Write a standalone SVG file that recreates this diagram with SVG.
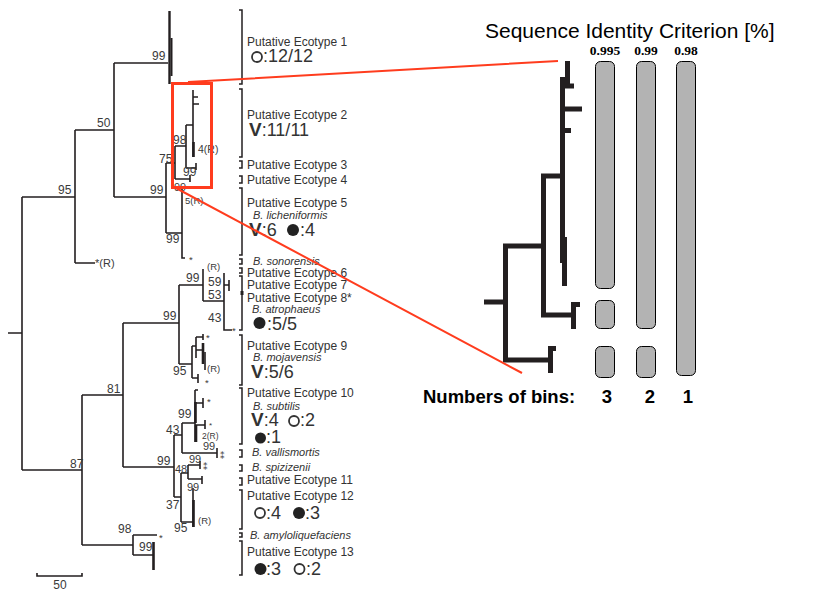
<svg xmlns="http://www.w3.org/2000/svg" width="831" height="593" viewBox="0 0 831 593">
<style>
.t{fill:none;stroke:#231f20;stroke-width:1.6}
.tk{fill:none;stroke:#231f20;stroke-width:2.6}
.br{fill:none;stroke:#231f20;stroke-width:1.5}
.n{font-family:"Liberation Sans",Arial,sans-serif;font-size:12px;fill:#3a3a3a}
.s{font-family:"Liberation Sans",Arial,sans-serif;font-size:9.5px;fill:#3a3a3a}
.dd{font-family:"DejaVu Sans",sans-serif;font-size:9px;fill:#3a3a3a}
.l{font-family:"Liberation Sans",Arial,sans-serif;font-size:12px;fill:#333}
.i{font-family:"Liberation Sans",Arial,sans-serif;font-size:11px;font-style:italic;fill:#333}
.b{font-family:"Liberation Sans",Arial,sans-serif;font-size:18px;fill:#333}
.v{font-weight:bold}
.oc{fill:none;stroke:#333;stroke-width:1.8}
.fc{fill:#222}
.rt{fill:none;stroke:#231f20;stroke-width:5}
.bar{fill:#b3b3b3;stroke:#000;stroke-width:1}
.red{fill:none;stroke:#ff3c1e;stroke-width:2}
.ser{font-family:"Liberation Serif","Times New Roman",serif;font-weight:bold;font-size:13.5px;fill:#000;text-anchor:middle}
.hb{font-family:"Liberation Sans",Arial,sans-serif;font-weight:bold;font-size:18.5px;fill:#000}
</style>

<g id="connectors">
<path class="t" d="M8,333H22M22,197V470M22,197H75M75,130V263M75,263H95M75,130H114M114,63V197M114,63H168M114,197H166M166,163V233M166,233H182M182,187V258H185M166,163H175M175,146V179M175,179H190M190,175V182M175,146H186M186,125V168M186,168H196M196,163V170M186,125H193M193,90V157M193,97H198M193,104H199"/>
<path class="t" d="M169.5,11V84" style="stroke-width:2.4"/>
<path class="t" d="M171.5,38V76" style="stroke-width:2"/>
<path class="tk" d="M193.5,142V157"/>
<path class="t" d="M22,470H82M82,395V545M82,395H123M123,323V467M123,323H179M179,285V364M179,285H203M203,269V301M203,301H224M224,273V330H232M224,285H229M229,280V291M179,364H192M192,346V378M192,346H196M196,337V358M196,337H203M203,334V340M196,350H203M205,352V370M192,378H198M198,374V383"/>
<path class="tk" d="M203,343V364"/>
<path class="t" d="M123,467H174M174,435V497M174,435H182M182,423V453M182,423H195M195,390V442M195,390H198M195,403H203M203,398V408M195,425H205M205,420V429M182,453H217M217,448V458M174,497H181M181,473V522M181,473H188M188,465V479M188,465H200M200,461V469M188,479H202M202,476V484M181,522H193M193,488V527"/>
<path class="tk" d="M195.5,402V423M196,425V442M193.5,500V527"/>
<path class="t" d="M82,545H133M133,535V555M133,535H157M133,555H153"/>
<path class="tk" d="M153.5,542V570"/>
<path class="t" d="M37,573V576H82V573"/>
<g class="br">
<path d="M239,10H242V84H239M239,89H242V157H239M239,161H242V168H239M239,176H242V183H239M239,188H242V255H239M239,259H242V264H239M239,268H242V273H239M239,276H242V330H239M239,335H242V385H239M239,388H242V444H239M239,450H242V457H239M239,465H242V471H239M239,478H242V485H239M239,490H242V529H239M239,533H242V537H239M239,541H242V575H239"/>
</g>
<rect x="240.5" y="291" width="3" height="4" fill="#231f20"/>
</g>

<g id="tree-labels">
<text class="n" x="58" y="194">95</text>
<text class="n" x="97" y="127">50</text>
<text class="n" x="152" y="60">99</text>
<text class="n" x="150" y="194">99</text>
<text class="n" x="166" y="243">99</text>
<text class="s" x="185" y="204">5(R)</text>
<text class="s" x="189" y="263">*</text>
<text class="n" x="159" y="163">75</text>
<text class="n" x="173" y="144">98</text>
<text class="n" x="183" y="176">99</text>
<text class="n" x="174" y="191" style="font-size:11px">99</text>
<text class="s" x="198" y="153" style="font-size:10.5px">4(R)</text>
<text class="s" x="95" y="267" style="font-size:11px">*(R)</text>
<text class="n" x="163" y="320">99</text>
<text class="n" x="186" y="282">99</text>
<text class="s" x="207" y="270">(R)</text>
<text class="n" x="208" y="286">59</text>
<text class="n" x="208" y="299">53</text>
<text class="n" x="208" y="322">43</text>
<text class="s" x="232" y="334">*</text>
<text class="s" x="206" y="341">*</text>
<text class="s" x="207" y="372">(R)</text>
<text class="s" x="205" y="386">*</text>
<text class="n" x="173" y="375">95</text>
<text class="n" x="107" y="393">81</text>
<text class="n" x="70" y="468">87</text>
<text class="n" x="157" y="465">99</text>
<text class="n" x="166" y="434">43</text>
<text class="n" x="178" y="418">99</text>
<text class="s" x="207" y="405">*</text>
<text class="s" x="209" y="428" style="font-size:8px">*</text>
<text class="s" x="202" y="439" style="font-size:8.5px">2(R)</text>
<text class="n" x="203" y="450" style="font-size:11px">99</text>
<text class="dd" x="220" y="459">⁑</text>
<text class="n" x="175" y="473" style="font-size:11px">48</text>
<text class="n" x="189" y="463" style="font-size:11px">99</text>
<text class="dd" x="203" y="470">⁑</text>
<text class="n" x="187" y="491" style="font-size:11px">99</text>
<text class="n" x="166" y="509">37</text>
<text class="n" x="174" y="532">95</text>
<text class="s" x="198" y="524">(R)</text>
<text class="n" x="118" y="533">98</text>
<text class="s" x="159" y="541">*</text>
<text class="n" x="139" y="551">99</text>
<text class="n" x="60" y="589" text-anchor="middle">50</text>
</g>

<g id="ecotype1">
<text class="l" x="247" y="46">Putative Ecotype 1</text>
<circle class="oc" cx="257" cy="57" r="5"/>
<text class="b" x="263" y="62">:12/12</text>
</g>
<g id="ecotype2">
<text class="l" x="247" y="119">Putative Ecotype 2</text>
<text class="b" x="249" y="136"><tspan class="v" style="font-size:19px">V</tspan>:11/11</text>
</g>
<g id="ecotype3"><text class="l" x="247" y="169">Putative Ecotype 3</text></g>
<g id="ecotype4"><text class="l" x="247" y="184">Putative Ecotype 4</text></g>
<g id="ecotype5">
<text class="l" x="247" y="207">Putative Ecotype 5</text>
<text class="i" x="253" y="219">B. licheniformis</text>
<text class="b" x="249" y="236"><tspan class="v" style="font-size:19px">V</tspan>:6</text>
<circle class="fc" cx="293" cy="230" r="6"/>
<text class="b" x="300" y="236">:4</text>
</g>
<g id="sonorensis"><text class="i" x="253" y="265">B. sonorensis</text></g>
<g id="ecotype6"><text class="l" x="247" y="277">Putative Ecotype 6</text></g>
<g id="ecotype7"><text class="l" x="247" y="289">Putative Ecotype 7</text></g>
<g id="ecotype8">
<text class="l" x="247" y="302">Putative Ecotype 8*</text>
<text class="i" x="252" y="313">B. atrophaeus</text>
<circle class="fc" cx="259.5" cy="323" r="6"/>
<text class="b" x="267" y="330">:5/5</text>
</g>
<g id="ecotype9">
<text class="l" x="247" y="350">Putative Ecotype 9</text>
<text class="i" x="253" y="361">B. mojavensis</text>
<text class="b" x="251" y="378"><tspan class="v" style="font-size:19px">V</tspan>:5/6</text>
</g>
<g id="ecotype10">
<text class="l" x="247" y="397">Putative Ecotype 10</text>
<text class="i" x="253" y="410">B. subtilis</text>
<text class="b" x="251" y="426"><tspan class="v" style="font-size:19px">V</tspan>:4</text>
<circle class="oc" cx="294" cy="421" r="5"/>
<text class="b" x="300" y="426">:2</text>
<circle class="fc" cx="260.5" cy="438" r="5.5"/>
<text class="b" x="266" y="443">:1</text>
</g>
<g id="vallismortis"><text class="i" x="252" y="456">B. vallismortis</text></g>
<g id="spizizenii"><text class="i" x="252" y="471">B. spizizenii</text></g>
<g id="ecotype11"><text class="l" x="247" y="484">Putative Ecotype 11</text></g>
<g id="ecotype12">
<text class="l" x="247" y="500">Putative Ecotype 12</text>
<circle class="oc" cx="260" cy="513" r="5"/>
<text class="b" x="266" y="519">:4</text>
<circle class="fc" cx="299" cy="513" r="6"/>
<text class="b" x="305" y="519">:3</text>
</g>
<g id="amyloliquefaciens"><text class="i" x="250" y="539">B. amyloliquefaciens</text></g>
<g id="ecotype13">
<text class="l" x="247" y="556">Putative Ecotype 13</text>
<circle class="fc" cx="260.5" cy="569" r="6"/>
<text class="b" x="266" y="575">:3</text>
<circle class="oc" cx="299.5" cy="569" r="5"/>
<text class="b" x="306" y="575">:2</text>
</g>

<g id="panel">
<text x="485" y="38" style="font-family:'Liberation Sans',Arial,sans-serif;font-size:21px;fill:#000">Sequence Identity Criterion [%]</text>
<text class="ser" x="605" y="55">0.995</text>
<text class="ser" x="646" y="55">0.99</text>
<text class="ser" x="686" y="55">0.98</text>
<rect class="bar" x="595.5" y="61.5" width="19" height="227" rx="5"/>
<rect class="bar" x="595.5" y="300.5" width="19" height="28" rx="5"/>
<rect class="bar" x="595.5" y="346.5" width="19" height="31" rx="5"/>
<rect class="bar" x="636.5" y="61.5" width="19" height="267" rx="5"/>
<rect class="bar" x="636.5" y="346.5" width="19" height="31" rx="5"/>
<rect class="bar" x="676.5" y="61.5" width="19" height="314" rx="5"/>
<path class="rt" d="M567.5,61V88M562.5,77V263M563,86H574M563,109H582M563,130.5H571M541,176H565M543.5,174V317M541,315H575M573.5,302V329M573,304.5H580M503,246H546M505.5,244V362M503,360H552M550.5,346V373M550,348.5H556M484,302H508"/>
<path class="rt" d="M564.5,237V286"/>
<text class="hb" x="423" y="403">Numbers of bins:</text>
<text class="hb" x="607" y="403" text-anchor="middle">3</text>
<text class="hb" x="650" y="403" text-anchor="middle">2</text>
<text class="hb" x="688" y="403" text-anchor="middle">1</text>
</g>

<g id="zoom-highlight">
<rect x="172.5" y="83.5" width="39" height="104" fill="none" stroke="#ff3c1e" stroke-width="3"/>
<path class="red" d="M188,82L558,61M174,187L522,373"/>
</g>
</svg>
